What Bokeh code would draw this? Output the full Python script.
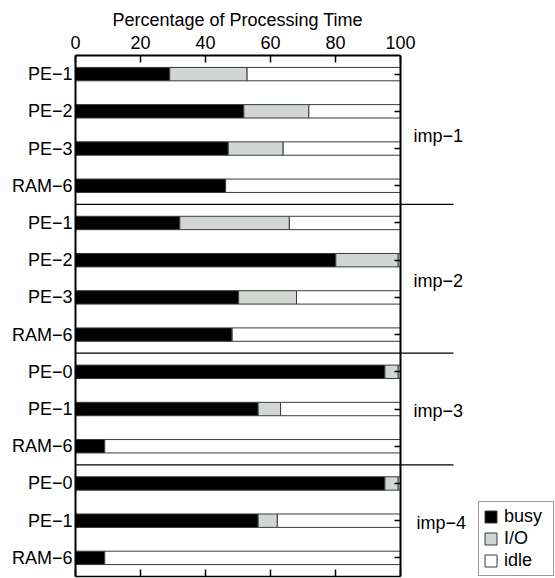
from bokeh.plotting import figure
from bokeh.models import (ColumnDataSource, FixedTicker, LinearAxis, Range1d,
                          Label, Arrow, Legend, LegendItem)
from bokeh.embed import file_html
from bokeh.resources import INLINE

# ---- data ----
groups = ["imp−1", "imp−2", "imp−3", "imp−4"]
group_units = [
    ["PE−1", "PE−2", "PE−3", "RAM−6"],
    ["PE−1", "PE−2", "PE−3", "RAM−6"],
    ["PE−0", "PE−1", "RAM−6"],
    ["PE−0", "PE−1", "RAM−6"],
]
busy = [29.0, 51.8, 47.0, 46.2,
        32.1, 80.1, 50.2, 48.2,
        95.2, 56.2, 9.0,
        95.2, 56.2, 9.0]
io = [23.8, 20.0, 16.9, 0.0,
      33.7, 19.2, 17.8, 0.0,
      4.1, 6.9, 0.0,
      4.1, 5.9, 0.0]
x_ticks = [0, 20, 40, 60, 80, 100]
series_names = ["busy", "I/O", "idle"]
title_text = "Percentage of Processing Time"

# ---- derived ----
labels = [u for g in group_units for u in g]
rows = list(range(1, len(labels) + 1))
idle = [100 - b - i for b, i in zip(busy, io)]
source = ColumnDataSource(dict(row=rows, busy=busy, io=io, idle=idle))

FONT = "Liberation Sans"
FS = "18px"

# frame: left 75 .. right 554 px; value 100 sits at 400 px
X_MAX = 100 * (554 - 75) / (400 - 75)

p = figure(width=555, height=578, output_backend="svg", toolbar_location=None,
           x_range=Range1d(0, X_MAX), y_range=Range1d(len(labels) + 0.5, 0.5),
           x_axis_location="above", min_border_left=75, min_border_right=1,
           min_border_top=55, min_border_bottom=2)
p.outline_line_color = None
p.grid.visible = False
p.background_fill_color = "white"
p.border_fill_color = "white"

# title, centred over the 0..100 part of the axis
p.title.text = title_text
p.title.align = "left"
p.title.offset = 37
p.title.text_font = FONT
p.title.text_font_size = FS
p.title.text_font_style = "normal"
p.title.text_color = "black"
p.title.standoff = 5

# top axis
xa = p.xaxis[0]
xa.ticker = FixedTicker(ticks=x_ticks)
xa.bounds = (0, 100)
xa.major_tick_in = 7
xa.major_tick_out = 0
xa.minor_tick_line_color = None
xa.axis_line_width = 2
xa.major_tick_line_width = 1.5
xa.major_label_text_font = FONT
xa.major_label_text_font_size = FS
xa.major_label_text_color = "black"
xa.major_label_standoff = 7

# left axis
ya = p.yaxis[0]
ya.ticker = FixedTicker(ticks=rows)
ya.major_label_overrides = {r: l for r, l in zip(rows, labels)}
ya.major_tick_in = 0
ya.major_tick_out = 0
ya.minor_tick_line_color = None
ya.axis_line_width = 2
ya.major_label_text_font = FONT
ya.major_label_text_font_size = FS
ya.major_label_text_color = "black"
ya.major_label_standoff = 3

# right axis at 100 (inward ticks only)
ra = LinearAxis(ticker=FixedTicker(ticks=rows), fixed_location=100,
                major_tick_in=6, major_tick_out=0, major_tick_line_width=1.5,
                minor_tick_line_color=None, axis_line_width=2,
                major_label_text_font_size="1px", major_label_text_color=None,
                major_label_standoff=0)
p.add_layout(ra, "right")

# bottom axis (inward ticks only)
ba = LinearAxis(ticker=FixedTicker(ticks=x_ticks), bounds=(0, 100),
                major_tick_in=7, major_tick_out=0,
                minor_tick_line_color=None, axis_line_width=1.5, major_tick_line_width=1.5,
                major_label_text_font_size="1px", major_label_text_color=None,
                major_label_standoff=0)
p.add_layout(ba, "below")

# bars
rs = p.hbar_stack(["busy", "io", "idle"], y="row", height=0.36, source=source,
                  fill_color=["black", "#d2d6d2", "white"], line_color="#3a3a3a",
                  line_width=1)

# separators between groups and group labels
start = 0
for gi, g in enumerate(group_units):
    n = len(g)
    center = start + (n + 1) / 2
    p.add_layout(Label(x=100, y=center, x_offset=16 if gi == 3 else 13,
                       y_offset=-6 if gi == 0 else -2,
                       text=groups[gi], text_font=FONT, text_font_size=FS,
                       text_baseline="middle", text_color="black"))
    start += n
    if gi < len(group_units) - 1:
        p.add_layout(Arrow(x_start=-14.5, y_start=start + 0.5, x_end=116.3,
                           y_end=start + 0.5, end=None, start=None,
                           line_color="black", line_width=1.2))

legend = Legend(items=[LegendItem(label=n, renderers=[r]) for n, r in zip(series_names, rs)],
                location="bottom_right", orientation="vertical",
                label_text_font=FONT, label_text_font_size=FS, label_text_color="black",
                glyph_width=15, glyph_height=15, label_height=16, label_width=45,
                label_standoff=6, spacing=1, padding=4, margin=0,
                border_line_color="#333333", border_line_width=1,
                background_fill_color="white", background_fill_alpha=1)
p.add_layout(legend, "center")

open("out.html", "w").write(file_html(p, INLINE))
